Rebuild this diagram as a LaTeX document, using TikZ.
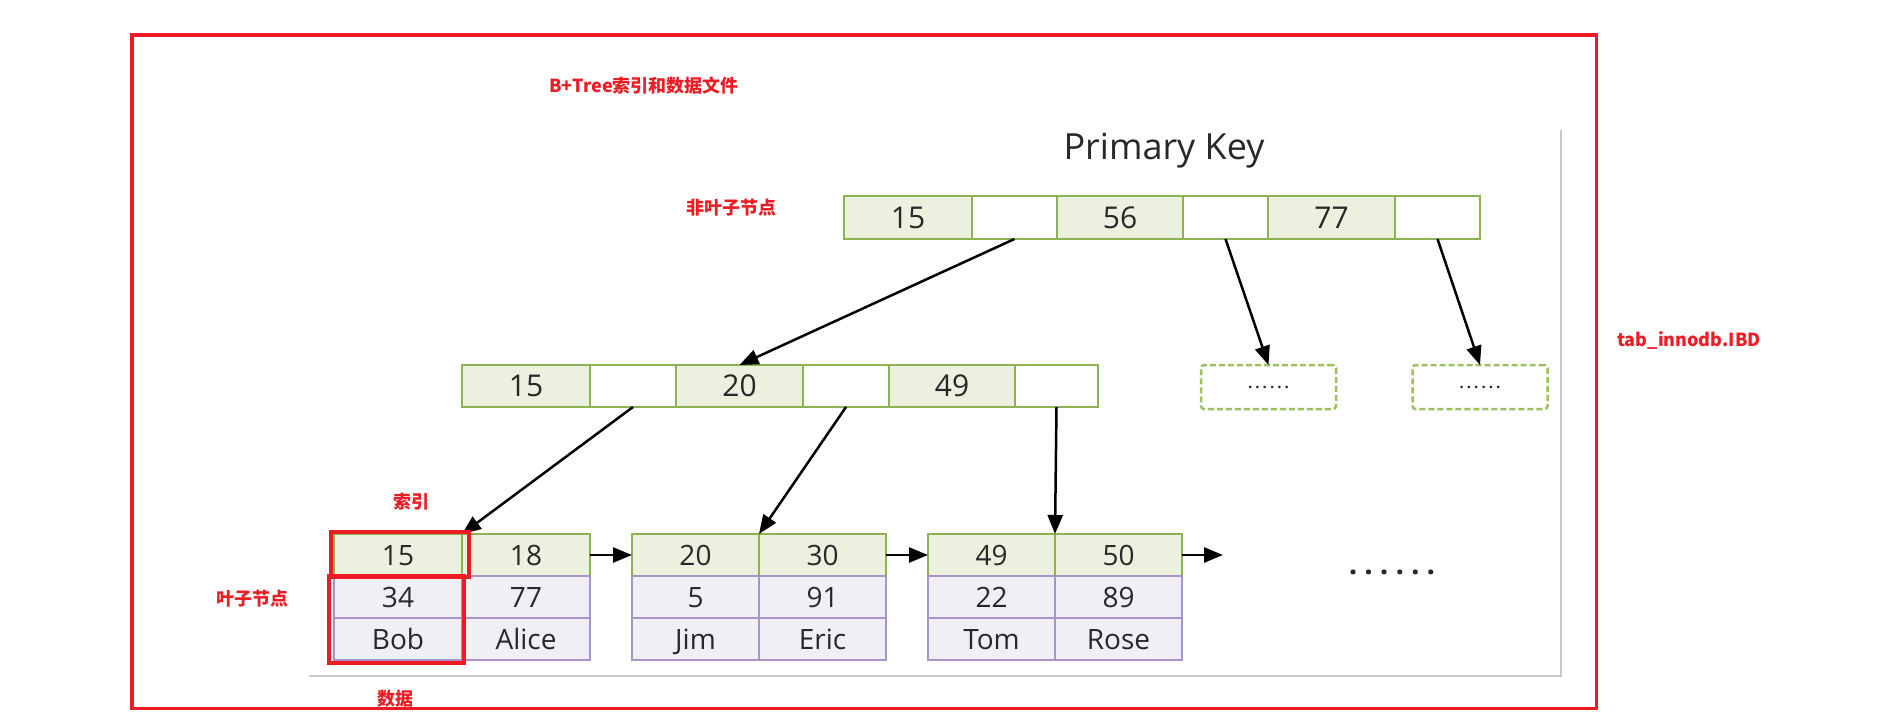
\documentclass[tikz,border=0pt]{standalone}
\usepackage{fontspec}
\setmainfont{Open Sans}
\newfontfamily\cjk{Noto Sans CJK SC}
\usetikzlibrary{arrows.meta}
\definecolor{gborder}{RGB}{140,178,82}
\definecolor{gfill}{RGB}{235,241,222}
\definecolor{pborder}{RGB}{168,148,200}
\definecolor{pfill}{RGB}{241,239,246}
\definecolor{dgreen}{RGB}{155,192,95}
\definecolor{redc}{RGB}{237,28,36}
\definecolor{txt}{RGB}{40,40,40}
\definecolor{frame}{RGB}{200,200,200}
\begin{document}
\begin{tikzpicture}[x=1pt,y=-1pt,
  cellbase/.style={line width=2.5pt, inner sep=0pt, outer sep=0pt, text=txt},
  gcell/.style={cellbase, draw=gborder, fill=gfill, minimum height=43pt, text height=21.4pt, text depth=0pt, font=\fontsize{30}{30}\selectfont},
  wcell/.style={cellbase, draw=gborder, fill=white, minimum height=43pt},
  lgcell/.style={cellbase, draw=gborder, fill=gfill, minimum height=42pt, minimum width=128pt, text height=20pt, text depth=0pt, font=\fontsize{28}{28}\selectfont},
  lpcell/.style={cellbase, draw=pborder, fill=pfill, minimum height=42pt, minimum width=128pt, text height=20pt, text depth=0pt, font=\fontsize{28}{28}\selectfont},
  dbox/.style={draw=dgreen, line width=2.5pt, dash pattern=on 6pt off 3pt, rounded corners=3pt, minimum width=135pt, minimum height=44pt, inner sep=0pt, outer sep=0pt, text=txt, font=\bfseries\fontsize{15}{15}\selectfont},
  redbox/.style={draw=redc, line width=3.5pt, inner sep=0pt, outer sep=0pt},
  redlabel/.style={text=redc, font=\cjk\bfseries\fontsize{18}{18}\selectfont, inner sep=0pt},
  ptr/.style={draw=black, line width=2.5pt, -{Triangle[length=19pt,width=15pt]}}
]
\useasboundingbox (0,0) rectangle (1890,728);
% outer frame and embedded image edges
\draw[draw=frame, line width=1.5pt] (309,676) -- (1561,676) -- (1561,130);
\node[redbox, minimum width=1464.5pt, minimum height=673.5pt] (outer) at (864.25,371.75) {};

% titles
\node[redlabel] (title) at (644,86) {B+Tree索引和数据文件};
\node[text=txt, font=\fontsize{36}{36}\selectfont, inner sep=0pt] (pk) at (1164,151) {Primary Key};

% top row
\node[gcell, minimum width=128pt] (t1) at (908,217.5) {15};
\node[wcell, minimum width=85pt] (t2) at (1014.5,217.5) {};
\node[gcell, minimum width=126pt] (t3) at (1120,217.5) {56};
\node[wcell, minimum width=85pt] (t4) at (1225.5,217.5) {};
\node[gcell, minimum width=127pt] (t5) at (1331.5,217.5) {77};
\node[wcell, minimum width=85pt] (t6) at (1437.5,217.5) {};

% middle row
\node[gcell, minimum width=128pt, minimum height=42pt] (m1) at (526,386) {15};
\node[wcell, minimum width=86pt, minimum height=42pt] (m2) at (633,386) {};
\node[gcell, minimum width=127pt, minimum height=42pt] (m3) at (739.5,386) {20};
\node[wcell, minimum width=86pt, minimum height=42pt] (m4) at (846,386) {};
\node[gcell, minimum width=126pt, minimum height=42pt] (m5) at (952,386) {49};
\node[wcell, minimum width=83pt, minimum height=42pt] (m6) at (1056.5,386) {};

% dashed boxes
\node[dbox] (d1) at (1268.5,387) {.\kern3pt.\kern3pt.\kern3pt.\kern3pt.\kern3pt.};
\node[dbox] (d2) at (1480,387) {.\kern3pt.\kern3pt.\kern3pt.\kern3pt.\kern3pt.};

% leaves: green key rows
\node[lgcell] (l1a) at (398,555) {15};
\node[lgcell] (l1b) at (526,555) {18};
\node[lgcell, minimum width=127pt] (l2a) at (695.5,555) {20};
\node[lgcell, minimum width=127pt] (l2b) at (822.5,555) {30};
\node[lgcell, minimum width=127pt] (l3a) at (991.5,555) {49};
\node[lgcell, minimum width=127pt] (l3b) at (1118.5,555) {50};
% leaves: purple data rows
\node[lpcell] (p1a) at (398,597) {34};
\node[lpcell] (p1b) at (526,597) {77};
\node[lpcell, minimum width=127pt] (p2a) at (695.5,597) {5};
\node[lpcell, minimum width=127pt] (p2b) at (822.5,597) {91};
\node[lpcell, minimum width=127pt] (p3a) at (991.5,597) {22};
\node[lpcell, minimum width=127pt] (p3b) at (1118.5,597) {89};
\node[lpcell] (q1a) at (398,639) {Bob};
\node[lpcell] (q1b) at (526,639) {Alice};
\node[lpcell, minimum width=127pt] (q2a) at (695.5,639) {Jim};
\node[lpcell, minimum width=127pt] (q2b) at (822.5,639) {Eric};
\node[lpcell, minimum width=127pt] (q3a) at (991.5,639) {Tom};
\node[lpcell, minimum width=127pt] (q3b) at (1118.5,639) {Rose};

\node[text=txt, font=\bfseries\fontsize{30}{30}\selectfont, inner sep=0pt, anchor=base] (more) at (1392,574) {.\kern7pt.\kern7pt.\kern7pt.\kern7pt.\kern7pt.};

% pointers
\draw[ptr] (t2.south) -- (m3.north);
\draw[ptr] (t4.south) -- (d1.north);
\draw[ptr] (t6.south) -- (d2.north);
\draw[ptr] (m2.south) -- (l1a.north east);
\draw[ptr] (m4.south) -- (l2a.north east);
\draw[ptr] (m6.south) -- (l3a.north east);
\coordinate (nextleaf) at (1223,555);
\draw[ptr] (l1b.east) -- (l2a.west);
\draw[ptr] (l2b.east) -- (l3a.west);
\draw[ptr] (l3b.east) -- (nextleaf);

% red highlight boxes
\node[redbox, minimum width=138pt, minimum height=45pt] (rkey) at (400,554.5) {};
\node[redbox, minimum width=135pt, minimum height=87pt] (rdata) at (396.5,619.5) {};

% red labels
\node[redlabel] (lnonleaf) at (731,208) {非叶子节点};
\node[redlabel] (lindex) at (411,502) {索引};
\node[redlabel] (lleaf) at (252,599) {叶子节点};
\node[redlabel] (ldata) at (395,699) {数据};
\node[redlabel] (lfile) at (1689,340) {tab\_innodb.IBD};
\end{tikzpicture}
\end{document}
